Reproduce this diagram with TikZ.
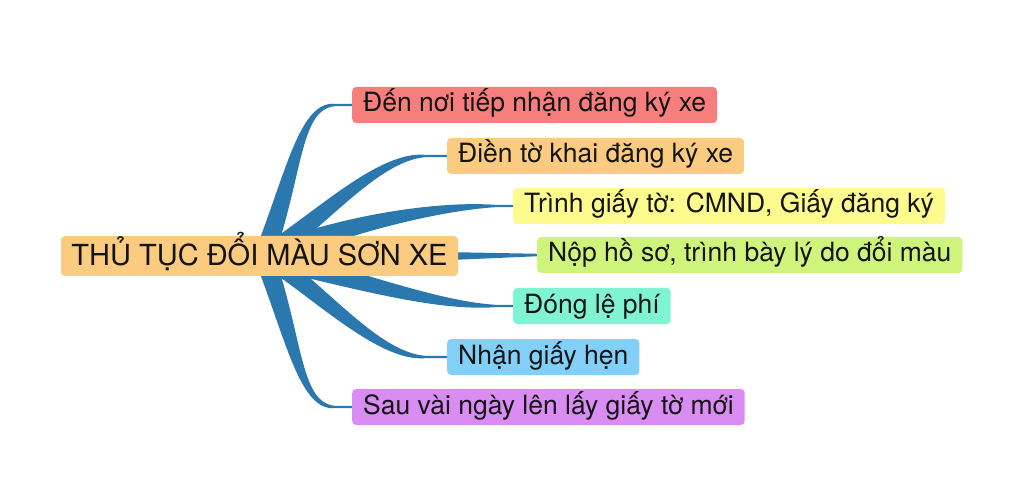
\documentclass[tikz,border=0pt]{standalone}
\usepackage{fontspec}
\setmainfont{TeX Gyre Heros}
\usetikzlibrary{calc}
\pgfdeclarelayer{bg}
\pgfdeclarelayer{paper}
\pgfsetlayers{paper,bg,main}
\definecolor{brc}{HTML}{2A78AE}
\definecolor{cRed}{HTML}{F67F7E}
\definecolor{cOra}{HTML}{FBCB80}
\definecolor{cYel}{HTML}{FDFA8E}
\definecolor{cGrn}{HTML}{CFF47C}
\definecolor{cMnt}{HTML}{80F4D2}
\definecolor{cBlu}{HTML}{82CFF8}
\definecolor{cPur}{HTML}{D98CF2}
% #1 root, #2 c1, #3 c2, #4 tip, #5 target node, #6 #7 root half-width vector, #8 half-width at c2
\newcommand\brn[8]{%
  \fill[branch] ($#1+({-(#6)},{-(#7)})$) .. controls ($#2+({-0.85*(#6)},{-0.85*(#7)})$) and ($#3+(0,{-(#8)})$) .. ($#4+(0,-1.2)$)
    -- ($(#5.west)+(1,-1.2)$) -- ($(#5.west)+(1,1.2)$)
    -- ($#4+(0,1.2)$) .. controls ($#3+(0,{#8})$) and ($#2+({0.85*(#6)},{0.85*(#7)})$) .. ($#1+({#6},{#7})$) -- cycle;}
\begin{document}
\begin{tikzpicture}[x=1pt,y=-1pt,
  box/.style={rounded corners=4pt, minimum height=36pt, inner xsep=11pt, inner ysep=0pt,
    anchor=west, text height=19pt, text depth=5pt, font=\fontsize{26.5}{30}\selectfont, text=black!92},
  mainbox/.style={rounded corners=4pt, minimum height=40pt, minimum width=397pt, inner ysep=0pt,
    fill=cOra, text height=21pt, text depth=1pt, font=\fontsize{29}{32}\selectfont, text=black!92},
  branch/.style={fill=brc}]
\useasboundingbox (0,0) rectangle (1024,502);
\begin{pgfonlayer}{paper}
\fill[white] (0,0) rectangle (1024,502);
\end{pgfonlayer}
\node[mainbox] (c) at (259.5,256) {THỦ TỤC ĐỔI MÀU SƠN XE};
\node[box, fill=cRed] (b1) at (352,105) {Đến nơi tiếp nhận đăng ký xe};
\node[box, fill=cOra] (b2) at (447,156) {Điền tờ khai đăng ký xe};
\node[box, fill=cYel] (b3) at (513,206) {Trình giấy tờ: CMND, Giấy đăng ký};
\node[box, fill=cGrn] (b4) at (537,255) {Nộp hồ sơ, trình bày lý do đổi màu};
\node[box, fill=cMnt] (b5) at (513,306) {Đóng lệ phí};
\node[box, fill=cBlu] (b6) at (447,357) {Nhận giấy hẹn};
\node[box, fill=cPur] (b7) at (352,407) {Sau vài ngày lên lấy giấy tờ mới};
\coordinate (r1) at ($(c.center)+(4.5,0)$);
\coordinate (r2) at ($(c.center)+(12.5,-4)$);
\coordinate (r3) at ($(c.center)+(16.5,-4)$);
\coordinate (r5) at ($(c.center)+(16.5,4)$);
\coordinate (r6) at ($(c.center)+(12.5,4)$);
\coordinate (r7) at ($(c.center)+(4.5,0)$);
\begin{pgfonlayer}{bg}
\brn{(r1)}{(295,172)}{(300,105)}{(335,105)}{b1}{9.5}{3.1}{4}
\brn{(r2)}{(325,215)}{(380,156)}{(425,156)}{b2}{6.2}{7.8}{5}
\brn{(r3)}{(355,222)}{(440,206)}{(495,206)}{b3}{3.3}{10}{5}
\fill[branch] ($(c.east)+(-3,-3.8)$) -- ($(b4.west)+(1,-1.2)$) -- ($(b4.west)+(1,1.2)$) -- ($(c.east)+(-3,3.8)$) -- cycle;
\brn{(r5)}{(370,284)}{(440,306)}{(495,306)}{b5}{-2}{10}{5}
\brn{(r6)}{(325,297)}{(380,357)}{(425,357)}{b6}{-7.8}{6.2}{5}
\brn{(r7)}{(295,340)}{(300,407)}{(335,407)}{b7}{-9.5}{3.1}{4}
\end{pgfonlayer}
\end{tikzpicture}
\end{document}
